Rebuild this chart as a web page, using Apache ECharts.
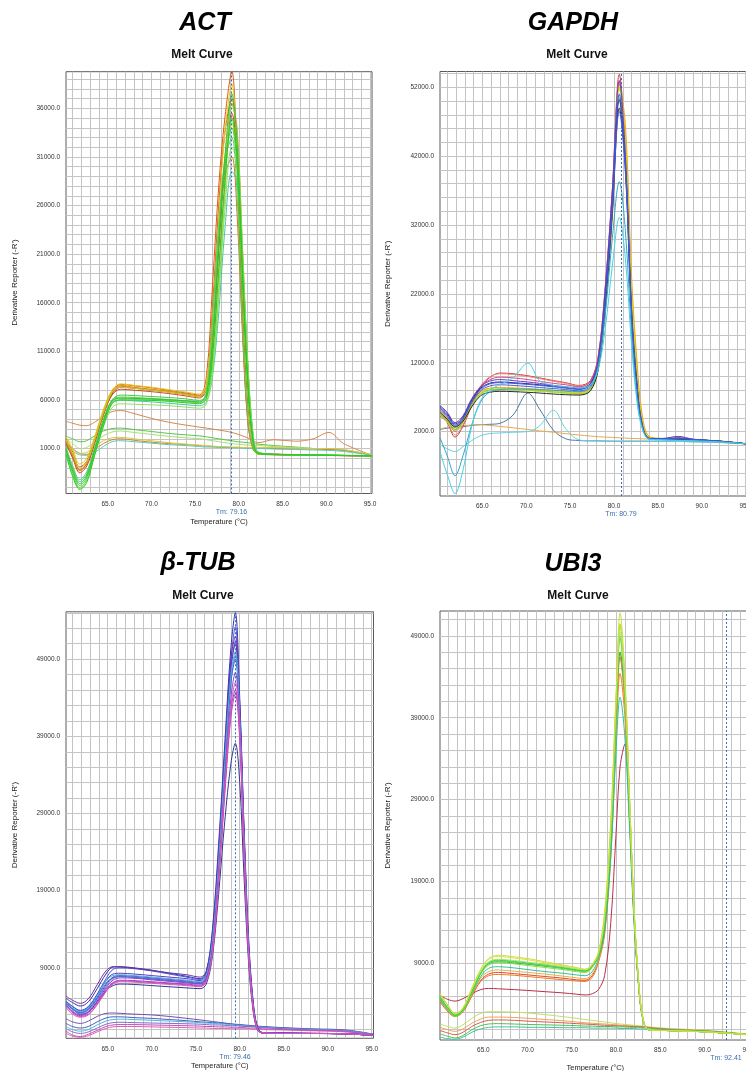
<!DOCTYPE html>
<html>
<head>
<meta charset="utf-8">
<title>Melt Curve</title>
<script src="https://cdn.jsdelivr.net/npm/echarts@6/dist/echarts.min.js"></script>
<style>
  html, body { margin: 0; padding: 0; background: #ffffff; }
  #chart { width: 746px; height: 1071px; }
</style>
</head>
<body>
<div id="chart"></div>
<script>
// ---- ACT ----
const actTemp = [60.23, 61, 61.8, 62.6, 63.5, 64.5, 65.5, 66.5, 68, 70, 72, 74, 75.5, 76.3, 77, 77.7, 78.4, 79.2, 79.8, 80.4, 81, 81.6, 82.2, 84, 86.5, 88.5, 90.3, 92, 95.23]
const actLow = [
  [3800, 3600, 3400, 3350, 3700, 4300, 4800, 4900, 4600, 4100, 3700, 3400, 3200, 3100, 3000, 2900, 2800, 2650, 2500, 2300, 2100, 1800, 1600, 1900, 1750, 2000, 2650, 1500, 300],
  [2250, 2000, 1700, 1800, 2300, 2800, 3050, 3100, 2950, 2750, 2550, 2400, 2300, 2200, 2100, 2000, 1900, 1800, 1700, 1650, 1600, 1500, 1450, 1300, 1150, 1000, 900, 800, 350],
  [2000, 1500, 1000, 1100, 1700, 2300, 2700, 2800, 2650, 2450, 2250, 2100, 2000, 1900, 1800, 1700, 1600, 1500, 1450, 1400, 1350, 1300, 1300, 1200, 1100, 1000, 950, 850, 350],
  [1700, 1000, 500, 400, 900, 1500, 1900, 2000, 1850, 1650, 1500, 1400, 1300, 1250, 1200, 1150, 1150, 1100, 1100, 1100, 1050, 1050, 1050, 1000, 950, 950, 900, 800, 350],
  [1100, 700, 350, 300, 600, 1200, 1700, 1800, 1700, 1550, 1400, 1300, 1200, 1150, 1150, 1100, 1100, 1100, 1050, 1050, 1000, 1000, 1000, 950, 900, 850, 800, 700, 300],
  [1500, 900, 500, 600, 1200, 1800, 2100, 2150, 2000, 1800, 1600, 1450, 1350, 1300, 1250, 1200, 1200, 1150, 1150, 1100, 1100, 1100, 1100, 1100, 1050, 1000, 1000, 900, 350]
]
const actAmp = [
  [1500, 0, -1500, -800, 1500, 4400, 6600, 7300, 7200, 7000, 6800, 6550, 6350, 7000, 12000, 21500, 30000, 35500, 31500, 20000, 8500, 2000, 500, 350, 320, 300, 280, 260, 230],
  [2000, 600, -900, -300, 2000, 4800, 6900, 7600, 7450, 7250, 7000, 6700, 6500, 8500, 18000, 28000, 35000, 39800, 30000, 14000, 4000, 1000, 450, 400, 350, 330, 300, 280, 250],
  [1700, 200, -1200, -500, 1800, 4500, 6500, 7100, 7000, 6850, 6650, 6400, 6200, 7200, 15500, 26000, 33500, 37000, 30500, 16500, 6000, 1500, 450, 380, 340, 320, 300, 270, 240],
  [1800, 400, -1200, -500, 1800, 4600, 6800, 7500, 7300, 7100, 6900, 6600, 6400, 7000, 11000, 19000, 28000, 36500, 34000, 22000, 10000, 2500, 650, 420, 370, 340, 310, 290, 260],
  [1600, 200, -1300, -600, 1700, 4500, 6700, 7400, 7250, 7050, 6850, 6600, 6400, 7600, 15000, 23500, 29000, 31000, 25000, 13000, 4000, 1000, 450, 380, 340, 320, 300, 280, 250],
  [2200, 900, -600, 0, 2200, 5000, 7000, 7650, 7500, 7300, 7050, 6800, 6600, 7800, 14500, 25000, 33500, 38500, 31000, 18000, 7000, 1500, 450, 380, 340, 320, 300, 270, 250],
  [1900, 500, -1000, -400, 1900, 4700, 6800, 7300, 7200, 7000, 6800, 6550, 6350, 7300, 13500, 23500, 31000, 34500, 30000, 18500, 7500, 1800, 500, 400, 350, 330, 300, 280, 250],
  [800, -1000, -2400, -1600, 900, 3700, 5700, 6000, 5900, 5800, 5650, 5500, 5400, 5800, 8500, 15000, 23500, 29500, 28500, 20500, 10000, 2600, 650, 420, 380, 350, 320, 290, 260],
  [600, -1700, -3100, -2300, 300, 3200, 5200, 5600, 5550, 5500, 5400, 5250, 5150, 5600, 8800, 16500, 25500, 32000, 30500, 21000, 10000, 2500, 600, 420, 380, 350, 320, 290, 260],
  [700, -1600, -3000, -2200, 500, 3500, 5800, 6150, 6100, 6050, 5950, 5800, 5700, 6100, 9500, 17500, 27000, 36500, 33500, 22000, 10500, 2600, 600, 420, 380, 350, 320, 290, 260],
  [900, -1400, -2800, -2000, 700, 3700, 6000, 6500, 6450, 6350, 6250, 6100, 5950, 6600, 12500, 22500, 30000, 34000, 30000, 18500, 7500, 1800, 500, 400, 350, 330, 300, 280, 250],
  [1200, -800, -2200, -1400, 1100, 4000, 6000, 6300, 6250, 6150, 6050, 5900, 5750, 6800, 14500, 24000, 30500, 33000, 27000, 14000, 4500, 1200, 450, 380, 340, 320, 300, 270, 240],
  [1000, -1200, -2600, -1800, 800, 3800, 5900, 6200, 6150, 6100, 6000, 5900, 5800, 6500, 12000, 22000, 31000, 37500, 32500, 20000, 8500, 2000, 500, 400, 350, 330, 300, 280, 250],
  [400, -1900, -3200, -2500, 300, 3300, 5600, 6000, 6000, 5950, 5850, 5700, 5600, 6200, 10500, 19500, 28500, 35000, 31000, 19000, 8000, 2000, 550, 400, 360, 340, 310, 280, 250]
]
const actColors = ['#d8884a', '#58c848', '#a8e078', '#c88a3a', '#5cc8b8', '#d8c848',
  '#c83818', '#e05a10', '#d84818', '#f09020', '#d87828', '#e8c818', '#b8d830', '#48c8a0',
  '#90e060', '#78e048', '#44cc44', '#58d058', '#38c038', '#20d020']
const actXLabels = [65, 70, 75, 80, 85, 90, 95]
const actYLabels = [1000, 6000, 11000, 16000, 21000, 26000, 31000, 36000]
const actTm = 79.16

// ---- GAPDH ----
const gapTemp = [60.18, 61, 61.9, 62.8, 63.8, 64.8, 65.8, 67, 68.5, 70.2, 71.5, 73.1, 74.5, 76, 77.3, 78.2, 79, 79.8, 80.6, 81.3, 82, 82.6, 83.2, 84, 85.5, 87.3, 89, 92, 95.2]
const gapLow = [
  [2300, 2500, 2600, 2700, 2900, 3000, 3050, 3200, 4400, 7600, 5300, 2200, 950, 700, 650, 650, 620, 600, 600, 600, 600, 600, 600, 600, 580, 560, 520, 420, 200],
  [100, -500, -900, -200, 700, 1400, 1700, 1800, 1900, 2000, 2800, 5100, 2400, 800, 650, 620, 600, 600, 600, 600, 600, 600, 600, 600, 580, 560, 520, 420, 200],
  [2400, 2600, 2750, 2850, 2950, 3000, 2900, 2750, 2550, 2300, 2100, 1900, 1700, 1500, 1350, 1250, 1200, 1150, 1100, 1050, 1000, 980, 950, 900, 850, 800, 700, 500, 200]
]
const gapAmp = [
  [4300, 3300, 1200, 2800, 5800, 8400, 9800, 10500, 10400, 10100, 9800, 9400, 9100, 8700, 9400, 13000, 23000, 37000, 53900, 43000, 20000, 9500, 3200, 1100, 950, 900, 800, 600, 200],
  [4500, 3500, 1500, 3000, 6000, 8600, 9900, 10400, 10300, 10000, 9700, 9300, 9000, 8600, 9200, 12500, 22000, 35500, 52500, 43500, 21000, 10000, 3400, 1100, 950, 900, 800, 600, 200],
  [5000, 4000, 2000, 3500, 6300, 8500, 9500, 9900, 9800, 9550, 9300, 9000, 8800, 8500, 9200, 12800, 23000, 37000, 52800, 42500, 20000, 9200, 3100, 1050, 950, 900, 800, 600, 200],
  [4700, 3700, 2500, 3600, 6000, 7700, 8200, 8300, 8250, 8150, 8050, 7900, 7750, 7600, 8300, 11500, 20500, 34000, 51800, 45000, 23000, 11500, 4000, 1200, 950, 900, 800, 600, 200],
  [4900, 3900, 2600, 3700, 6100, 7800, 8300, 8400, 8350, 8250, 8150, 8000, 7850, 7700, 8300, 11000, 19500, 33000, 52500, 46500, 24500, 12500, 4500, 1300, 1000, 950, 850, 650, 250],
  [4600, 3600, 2300, 3400, 5800, 7500, 8000, 8150, 8100, 8000, 7900, 7750, 7600, 7450, 8100, 11500, 21000, 34500, 50500, 41500, 20000, 9500, 3200, 1000, 950, 900, 800, 600, 200],
  [4400, 3400, 2100, 3300, 5700, 7400, 7950, 8100, 8050, 7950, 7850, 7700, 7550, 7400, 8000, 11200, 20500, 34000, 52000, 43000, 21000, 10000, 3300, 1000, 950, 900, 800, 600, 200],
  [4800, 3800, 2700, 3500, 5600, 7200, 7700, 7850, 7800, 7700, 7600, 7450, 7350, 7300, 7900, 11000, 20000, 33500, 49000, 40500, 19500, 9000, 3000, 1000, 900, 900, 800, 600, 200],
  [5800, 4800, 3300, 4300, 6800, 8500, 9300, 9550, 9400, 9200, 9000, 8700, 8500, 8300, 9000, 12500, 22500, 36500, 53000, 42000, 19500, 9000, 3000, 1000, 1000, 1300, 900, 600, 200],
  [5600, 4600, 3100, 4100, 6600, 8300, 9000, 9200, 9100, 8950, 8800, 8600, 8400, 8200, 8900, 12000, 21500, 35000, 50200, 40000, 18500, 8500, 2800, 1000, 950, 1100, 850, 600, 200],
  [5200, 4200, 2700, 3800, 6200, 7900, 8600, 8800, 8700, 8550, 8400, 8250, 8100, 7900, 8600, 11800, 21000, 34000, 48500, 39500, 18500, 8600, 2900, 1000, 950, 1000, 850, 600, 200],
  [5400, 4400, 2900, 3900, 6400, 8100, 8900, 9100, 9000, 8850, 8700, 8500, 8300, 8100, 8800, 12000, 21500, 35500, 51000, 41000, 19000, 8800, 2900, 1000, 950, 950, 850, 600, 200],
  [1100, -1500, -4400, -1500, 3000, 6300, 7700, 8100, 8200, 8150, 8100, 8000, 7900, 7800, 8400, 11500, 19000, 30000, 38300, 31000, 16000, 7000, 2600, 900, 800, 700, 650, 500, 200],
  [-900, -4200, -7000, -3600, 2800, 6500, 8000, 8800, 9800, 11950, 9400, 8700, 8500, 8300, 8800, 11000, 17000, 26000, 33100, 27000, 14500, 6500, 2500, 900, 800, 700, 650, 500, 200]
]
const gapColors = ['#4a7aa8', '#68d0e0', '#e8a850',
  '#d83838', '#e88878', '#c85090', '#e8d800', '#f0a818', '#58c038', '#b0e038', '#282828',
  '#7838b8', '#2828a0', '#5060c8', '#3858e0', '#30a8c8', '#48d0e8']
const gapXLabels = [65, 70, 75, 80, 85, 90, 95]
const gapYLabels = [2000, 12000, 22000, 32000, 42000, 52000]
const gapTm = 80.79

// ---- β-TUB ----
const tubTemp = [60.26, 61, 61.9, 62.8, 63.8, 64.8, 65.6, 66.5, 68, 70, 72, 74, 75.5, 76.2, 76.9, 77.6, 78.3, 79, 79.5, 80, 80.5, 81, 81.5, 82, 82.6, 85, 88, 92, 95.2]
const tubLow = [
  [2400, 2000, 1800, 2100, 2700, 3100, 3150, 3100, 3000, 2900, 2700, 2450, 2250, 2150, 2050, 1950, 1850, 1750, 1700, 1650, 1600, 1550, 1500, 1450, 1400, 1250, 1100, 950, 400],
  [1800, 1400, 1200, 1400, 2000, 2500, 2650, 2650, 2550, 2450, 2300, 2150, 2000, 1950, 1900, 1850, 1800, 1700, 1650, 1600, 1550, 1500, 1450, 1400, 1350, 1200, 1050, 900, 400],
  [1400, 1000, 800, 1000, 1600, 2100, 2300, 2350, 2300, 2200, 2100, 2000, 1900, 1850, 1800, 1750, 1700, 1650, 1600, 1550, 1500, 1450, 1400, 1350, 1300, 1150, 1000, 850, 380],
  [1100, 700, 500, 700, 1200, 1700, 1900, 1950, 1900, 1850, 1800, 1750, 1700, 1650, 1600, 1600, 1550, 1500, 1500, 1450, 1400, 1400, 1350, 1300, 1250, 1100, 950, 800, 350],
  [500, 150, 0, 200, 700, 1150, 1350, 1400, 1400, 1350, 1300, 1250, 1200, 1200, 1150, 1150, 1150, 1100, 1100, 1100, 1100, 1100, 1050, 1050, 1000, 950, 850, 700, 300],
  [800, 300, 100, 400, 900, 1400, 1600, 1650, 1650, 1600, 1550, 1500, 1450, 1400, 1400, 1350, 1350, 1300, 1300, 1250, 1250, 1200, 1200, 1150, 1100, 1000, 900, 750, 300]
]
const tubAmp = [
  [4500, 3700, 3000, 3300, 4600, 6000, 6700, 6900, 6850, 6700, 6550, 6400, 6300, 6900, 10500, 18500, 28000, 35500, 38100, 33000, 20500, 9800, 3600, 1000, 550, 500, 500, 450, 250],
  [5050, 4500, 4050, 4600, 6300, 8200, 9100, 9150, 9000, 8700, 8300, 7900, 7600, 8500, 14000, 25000, 38000, 50500, 55000, 44000, 27000, 13000, 5000, 1400, 600, 550, 500, 450, 250],
  [4600, 4000, 3500, 4000, 5600, 7600, 8800, 9000, 8900, 8600, 8200, 7800, 7500, 8300, 13000, 23500, 36500, 49000, 53200, 43000, 26000, 12000, 4500, 1200, 600, 550, 500, 450, 250],
  [5350, 4800, 4400, 5000, 6800, 8600, 9150, 9100, 8950, 8650, 8350, 8100, 7800, 8600, 13500, 24000, 37000, 49000, 52000, 43000, 26500, 12500, 4700, 1300, 600, 550, 500, 450, 250],
  [4700, 4000, 3400, 3900, 5500, 7300, 8200, 8300, 8200, 8000, 7800, 7600, 7350, 8100, 13000, 23000, 36000, 48000, 51000, 42000, 25500, 11800, 4400, 1200, 600, 550, 500, 450, 250],
  [4400, 3700, 3200, 3600, 5000, 6800, 7800, 8000, 7900, 7700, 7500, 7300, 7100, 7900, 12500, 22500, 35000, 47500, 51300, 42000, 25000, 11500, 4300, 1200, 600, 550, 500, 450, 250],
  [4300, 3600, 3100, 3500, 4900, 6600, 7600, 7900, 7800, 7600, 7400, 7200, 7000, 7800, 12000, 21500, 34000, 46000, 49500, 41000, 24500, 11000, 4000, 1100, 550, 500, 500, 450, 250],
  [4400, 3700, 3200, 3700, 5200, 7000, 7700, 7850, 7750, 7550, 7350, 7150, 6950, 7700, 12000, 22000, 34500, 46000, 49000, 40500, 24500, 11200, 4100, 1100, 550, 500, 500, 450, 250],
  [4500, 3800, 3300, 3800, 5400, 7300, 8000, 8100, 8000, 7800, 7600, 7400, 7200, 8000, 12500, 22500, 35500, 47000, 50000, 41000, 25000, 11500, 4200, 1100, 550, 500, 500, 450, 250],
  [4200, 3400, 2900, 3300, 4700, 6400, 7400, 7700, 7650, 7450, 7250, 7050, 6900, 7600, 11500, 21000, 33000, 44000, 47300, 40000, 24000, 11000, 4000, 1100, 550, 500, 500, 450, 250],
  [4100, 3300, 2800, 3200, 4500, 6200, 7100, 7400, 7350, 7200, 7050, 6900, 6750, 7400, 11200, 20500, 32000, 42500, 45000, 39000, 23800, 11000, 4000, 1100, 550, 500, 500, 450, 250],
  [4000, 3200, 2700, 3000, 4300, 6000, 7000, 7300, 7250, 7100, 6950, 6800, 6650, 7300, 11000, 20000, 31500, 41500, 44500, 38500, 23500, 11000, 4000, 1100, 550, 500, 500, 450, 250],
  [3800, 3000, 2600, 2900, 4200, 5900, 6900, 7200, 7150, 7000, 6850, 6700, 6550, 7200, 11000, 20500, 32500, 43000, 46000, 39500, 24000, 11200, 4100, 1100, 550, 500, 500, 450, 250]
]
const tubColors = ['#7050b0', '#4060c8', '#50b8d8', '#8868c8', '#e060b0', '#c050c0',
  '#303890', '#3030b0', '#4858d8', '#7030a0', '#5a3cc8', '#6040c0', '#5888e8', '#3c64d0', '#48b0d8',
  '#9040d0', '#a040c8', '#c040c0', '#d858b8']
const tubXLabels = [65, 70, 75, 80, 85, 90, 95]
const tubYLabels = [9000, 19000, 29000, 39000, 49000]
const tubTm = 79.46

// ---- UBI3 ----
const ubiTemp = [60.1, 61, 61.8, 62.7, 63.7, 64.7, 65.6, 66.7, 68.5, 70, 72, 74, 75.5, 76.5, 77.3, 78, 78.7, 79.4, 80, 80.45, 81, 81.5, 82, 82.5, 83, 83.7, 86, 90, 95.2]
const ubiLow = [
  [1600, 1300, 1100, 1500, 2300, 2900, 3100, 3100, 3050, 2950, 2750, 2500, 2300, 2150, 2050, 1950, 1850, 1750, 1650, 1600, 1550, 1500, 1450, 1400, 1350, 1250, 1050, 850, 350],
  [1200, 900, 700, 1000, 1700, 2200, 2450, 2450, 2400, 2300, 2150, 2000, 1850, 1750, 1700, 1650, 1600, 1550, 1500, 1450, 1400, 1400, 1350, 1300, 1300, 1200, 1000, 800, 300],
  [800, 500, 300, 600, 1300, 1800, 2050, 2100, 2050, 1950, 1850, 1750, 1650, 1600, 1550, 1500, 1450, 1400, 1400, 1350, 1350, 1300, 1300, 1250, 1250, 1150, 950, 750, 300],
  [400, 100, -100, 200, 900, 1400, 1600, 1650, 1600, 1550, 1500, 1450, 1400, 1350, 1350, 1300, 1300, 1300, 1250, 1250, 1250, 1200, 1200, 1200, 1150, 1100, 900, 750, 300],
  [0, -200, -250, 0, 600, 1000, 1200, 1250, 1250, 1200, 1200, 1150, 1150, 1150, 1100, 1100, 1100, 1100, 1100, 1050, 1050, 1050, 1050, 1000, 1000, 950, 850, 700, 250]
]
const ubiAmp = [
  [5100, 4600, 4400, 4700, 5300, 5800, 5950, 5900, 5800, 5700, 5550, 5400, 5250, 5150, 5300, 5800, 7500, 14000, 25000, 33000, 35800, 27000, 15000, 7000, 2500, 900, 800, 650, 300],
  [4300, 3100, 2500, 3100, 5000, 6900, 7700, 7900, 7750, 7600, 7400, 7200, 7000, 6950, 7500, 9300, 13000, 23000, 38000, 46400, 40500, 28000, 15500, 7000, 2300, 900, 800, 650, 300],
  [4500, 3200, 2600, 3200, 5100, 6800, 7500, 7650, 7550, 7400, 7200, 7000, 6850, 6800, 7300, 9100, 12500, 22000, 36500, 44400, 39000, 27000, 15000, 6800, 2300, 900, 800, 650, 300],
  [4400, 3200, 2500, 3200, 5200, 7200, 8000, 8200, 8050, 7900, 7700, 7450, 7250, 7150, 7700, 9400, 13200, 23500, 37500, 47000, 40500, 28000, 15500, 7000, 2300, 900, 800, 650, 300],
  [4600, 3300, 2600, 3300, 5300, 7400, 8400, 8600, 8450, 8250, 8000, 7800, 7600, 7500, 8000, 9600, 13000, 22000, 35000, 41500, 36500, 26000, 14500, 6800, 2300, 900, 800, 650, 300],
  [4700, 3500, 2700, 3300, 5500, 7800, 8950, 9200, 9050, 8900, 8650, 8400, 8150, 8050, 8600, 9900, 13500, 24000, 39000, 47000, 41500, 29000, 16000, 7300, 2400, 900, 800, 650, 300],
  [4800, 3400, 2500, 3200, 5400, 7700, 8800, 9100, 8950, 8750, 8500, 8250, 8000, 7900, 8500, 10000, 14000, 24500, 39500, 48700, 42000, 29000, 16000, 7300, 2400, 900, 800, 650, 300],
  [4900, 3500, 2600, 3300, 5500, 7800, 9000, 9300, 9150, 8950, 8700, 8400, 8150, 8000, 8600, 10000, 14000, 24800, 40000, 49000, 42000, 29200, 16000, 7300, 2400, 900, 800, 650, 300],
  [5000, 3600, 2700, 3400, 5600, 7900, 9100, 9400, 9250, 9050, 8800, 8500, 8250, 8100, 8700, 10100, 14200, 25000, 41000, 50400, 43000, 29500, 16000, 7300, 2400, 900, 800, 650, 300],
  [5200, 3800, 2800, 3500, 5800, 8000, 9200, 9500, 9350, 9150, 8900, 8600, 8350, 8200, 8800, 10200, 14500, 25500, 41000, 49500, 42500, 29500, 16200, 7400, 2450, 900, 800, 650, 300],
  [5300, 3850, 2850, 3550, 5900, 8200, 9500, 9850, 9650, 9450, 9050, 8700, 8450, 8250, 8850, 10300, 15000, 26000, 41500, 50500, 43500, 29800, 16300, 7450, 2500, 900, 800, 650, 300],
  [5350, 3900, 2900, 3600, 6000, 8300, 9600, 10000, 9800, 9600, 9200, 8800, 8500, 8300, 8900, 10400, 15200, 26500, 42000, 51800, 44000, 30000, 16500, 7500, 2500, 900, 800, 650, 300]
]
const ubiColors = ['#c0e060', '#f0a060', '#d06050', '#50c050', '#40c0a0',
  '#b83048', '#e04828', '#f07828', '#e8b040', '#30c0a0', '#28b048', '#80e030', '#58d858', '#40c840',
  '#98e870', '#e0e038', '#c8e040']
const ubiXLabels = [65, 70, 75, 80, 85, 90, 95]
const ubiYLabels = [9000, 19000, 29000, 39000, 49000]
const ubiTm = 92.41

const FONT = '"Liberation Sans", Arial, sans-serif'
const yName = 'Derivative Reporter (-R\')'
const xName = 'Temperature (°C)'

const panels = [
  { title: 'ACT', tx: 205, ty: 23, sx: 202, sy: 55, grid: { left: 66, top: 71.7, width: 306, height: 421.8 },
    xMin: 60.23, xMax: 95.23, yMin: -3630, yMax: 39770, yStep: 1000, yGap: 47, xName: xName,
    temp: actTemp, curves: actLow.concat(actAmp), colors: actColors, xLabels: actXLabels, yLabels: actYLabels, tm: actTm },
  { title: 'GAPDH', tx: 573, ty: 23, sx: 577, sy: 55, grid: { left: 440, top: 71.5, width: 307.5, height: 424.5 },
    xMin: 60.18, xMax: 95.2, yMin: -7360, yMax: 54300, yStep: 2000, yGap: 48, xName: '',
    temp: gapTemp, curves: gapLow.concat(gapAmp), colors: gapColors, xLabels: gapXLabels, yLabels: gapYLabels, tm: gapTm },
  { title: 'β-TUB', tx: 198, ty: 563, sx: 203, sy: 596, grid: { left: 66, top: 611.8, width: 307.5, height: 426.5 },
    xMin: 60.26, xMax: 95.2, yMin: -130, yMax: 55140, yStep: 2000, yGap: 47, xName: xName,
    temp: tubTemp, curves: tubLow.concat(tubAmp), colors: tubColors, xLabels: tubXLabels, yLabels: tubYLabels, tm: tubTm },
  { title: 'UBI3', tx: 573, ty: 564, sx: 578, sy: 596, grid: { left: 440, top: 611, width: 310.6, height: 429 },
    xMin: 60.1, xMax: 95.2, yMin: -350, yMax: 52030, yStep: 2000, yGap: 48, xName: xName,
    temp: ubiTemp, curves: ubiLow.concat(ubiAmp), colors: ubiColors, xLabels: ubiXLabels, yLabels: ubiYLabels, tm: ubiTm }
]

// grid line positions: every step, aligned on the first tick label
function gridValues(min, max, step, anchor) {
  const out = []
  let v = anchor - Math.floor((anchor - min) / step) * step
  for (; v <= max + 1e-6; v += step) out.push(Math.round(v * 100) / 100)
  return out
}

const grids = []
const xAxes = []
const yAxes = []
const series = []
const graphics = []

panels.forEach((p, i) => {
  grids.push(Object.assign({ show: true, borderColor: '#5a5a5a', borderWidth: 1, backgroundColor: '#ffffff',
    containLabel: false, outerBoundsMode: 'none' }, p.grid))
  xAxes.push({
    type: 'value', gridIndex: i, min: p.xMin, max: p.xMax,
    name: p.xName, nameLocation: 'middle', nameGap: 24,
    nameTextStyle: { fontSize: 7.5, color: '#222' },
    axisLine: { show: false },
    axisTick: { show: false, customValues: gridValues(p.xMin, p.xMax, 1, p.xLabels[0]) },
    axisLabel: { customValues: p.xLabels, formatter: v => v.toFixed(1), fontSize: 6.5, color: '#333', margin: 7 },
    splitLine: { show: true, lineStyle: { color: '#c4c4c4', width: 1 } }
  })
  yAxes.push({
    type: 'value', gridIndex: i, min: p.yMin, max: p.yMax,
    name: yName, nameLocation: 'middle', nameGap: p.yGap, nameRotate: 90,
    nameTextStyle: { fontSize: 8, color: '#222' },
    axisLine: { show: false },
    axisTick: { show: false, customValues: gridValues(p.yMin, p.yMax, p.yStep, p.yLabels[0]) },
    axisLabel: { customValues: p.yLabels, formatter: v => v.toFixed(1), fontSize: 6.5, color: '#333', margin: 6 },
    splitLine: { show: true, lineStyle: { color: '#c4c4c4', width: 1 } }
  })
  p.curves.forEach((vals, k) => {
    const s = {
      type: 'line', xAxisIndex: i, yAxisIndex: i,
      data: p.temp.map((t, j) => [t, vals[j]]),
      showSymbol: false, smooth: 0.35, silent: true, animation: false,
      lineStyle: { width: 1, color: p.colors[k] },
      itemStyle: { color: p.colors[k] }
    }
    if (k === 0) {
      s.markLine = {
        silent: true, symbol: ['none', 'none'], animation: false,
        lineStyle: { color: '#3a6fc0', type: [2, 2], width: 1 },
        label: { show: true, position: 'start', distance: 15, formatter: 'Tm: ' + p.tm.toFixed(2),
          color: '#3a6fb0', fontSize: 7 },
        data: [{ xAxis: p.tm }]
      }
    }
    series.push(s)
  })
  graphics.push({ type: 'text', x: p.tx, y: p.ty, style: { text: p.title, font: 'italic bold 25px ' + FONT,
    fill: '#000', align: 'center', verticalAlign: 'middle', textAlign: 'center', textVerticalAlign: 'middle' } })
  graphics.push({ type: 'text', x: p.sx, y: p.sy, style: { text: 'Melt Curve', font: 'bold 12px ' + FONT,
    fill: '#111', align: 'center', verticalAlign: 'middle', textAlign: 'center', textVerticalAlign: 'middle' } })
})

const chart = echarts.init(document.getElementById('chart'))
chart.setOption({
  backgroundColor: '#ffffff',
  animation: false,
  textStyle: { fontFamily: FONT },
  grid: grids,
  xAxis: xAxes,
  yAxis: yAxes,
  series: series,
  graphic: graphics
})
</script>
</body>
</html>
